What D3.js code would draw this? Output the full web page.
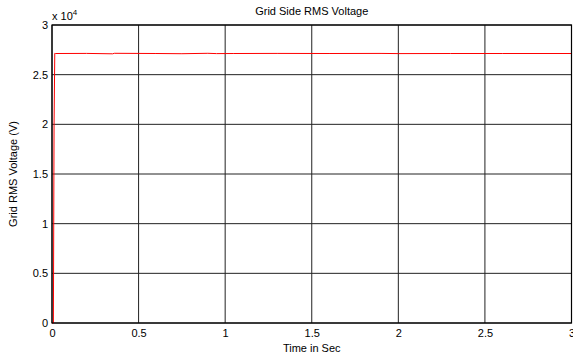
<!DOCTYPE html>
<html><head><meta charset="utf-8">
<script src="https://cdn.jsdelivr.net/npm/d3@7"></script>
<style>body{margin:0;background:#fff}svg{display:block}text{font-family:"Liberation Sans",Arial,sans-serif;fill:#000}</style>
</head><body>
<script>
const timeSec = [0, 0.008, 0.012, 0.016, 0.02, 0.2, 0.35, 0.36, 0.6, 0.75, 0.9, 0.95, 1.05, 1.3, 1.6, 1.9, 2.0, 2.3, 2.6, 3.0];
const voltage = [0, 0, 20000, 27150, 27130, 27140, 27100, 27150, 27130, 27110, 27150, 27120, 27130, 27140, 27130, 27140, 27120, 27130, 27130, 27130];
const xTicks = [0, 0.5, 1, 1.5, 2, 2.5, 3];
const yTicks = [0, 0.5, 1, 1.5, 2, 2.5, 3];
const W = 573, H = 358;
const m = {l: 52, r: 1.5, t: 25, b: 35};
const svg = d3.select("body").append("svg").attr("width", W).attr("height", H);
const x = d3.scaleLinear().domain([0, 3]).range([m.l, W - m.r]);
const y = d3.scaleLinear().domain([0, 3]).range([H - m.b, m.t]);
const g = svg.append("g");
// grid
g.selectAll(".gx").data(xTicks).join("line").attr("x1", d => x(d)).attr("x2", d => x(d))
  .attr("y1", m.t).attr("y2", H - m.b).attr("stroke", "#222").attr("stroke-width", 1);
g.selectAll(".gy").data(yTicks).join("line").attr("y1", d => y(d)).attr("y2", d => y(d))
  .attr("x1", m.l).attr("x2", W - m.r).attr("stroke", "#222").attr("stroke-width", 1);
// line
const line = d3.line().x((d, i) => x(timeSec[i])).y(d => y(d / 1e4));
g.append("path").datum(voltage).attr("d", line).attr("fill", "none").attr("stroke", "#ff0000").attr("stroke-width", 1);
// box
g.append("rect").attr("x", m.l).attr("y", m.t).attr("width", x(3) - m.l).attr("height", y(0) - m.t)
  .attr("fill", "none").attr("stroke", "#000").attr("stroke-width", 1.2);
// axes labels
const xa = d3.axisBottom(x).tickValues(xTicks).tickSize(0).tickPadding(6).tickFormat(d3.format("~g"));
const gx = svg.append("g").attr("transform", `translate(0,${y(0)})`).call(xa);
gx.select(".domain").remove();
gx.selectAll("text").attr("font-size", 11).style("font-family", "Liberation Sans, Arial");
const ya = d3.axisLeft(y).tickValues(yTicks).tickSize(0).tickPadding(4).tickFormat(d3.format("~g"));
const gy = svg.append("g").attr("transform", `translate(${m.l},0)`).call(ya);
gy.select(".domain").remove();
gy.selectAll("text").attr("font-size", 11).style("font-family", "Liberation Sans, Arial");
svg.append("text").attr("x", (m.l + W - m.r) / 2).attr("y", 15).attr("text-anchor", "middle").attr("font-size", 11).text("Grid Side RMS Voltage");
svg.append("text").attr("x", (m.l + W - m.r) / 2).attr("y", 352).attr("text-anchor", "middle").attr("font-size", 11).text("Time in Sec");
svg.append("text").attr("transform", `translate(17,${(m.t + H - m.b) / 2}) rotate(-90)`).attr("text-anchor", "middle").attr("font-size", 11).text("Grid RMS Voltage (V)");
const e = svg.append("text").attr("x", 52).attr("y", 20).attr("font-size", 11);
e.append("tspan").text("x 10");
e.append("tspan").attr("dy", -5).attr("font-size", 8).text("4");
</script>
</body></html>
